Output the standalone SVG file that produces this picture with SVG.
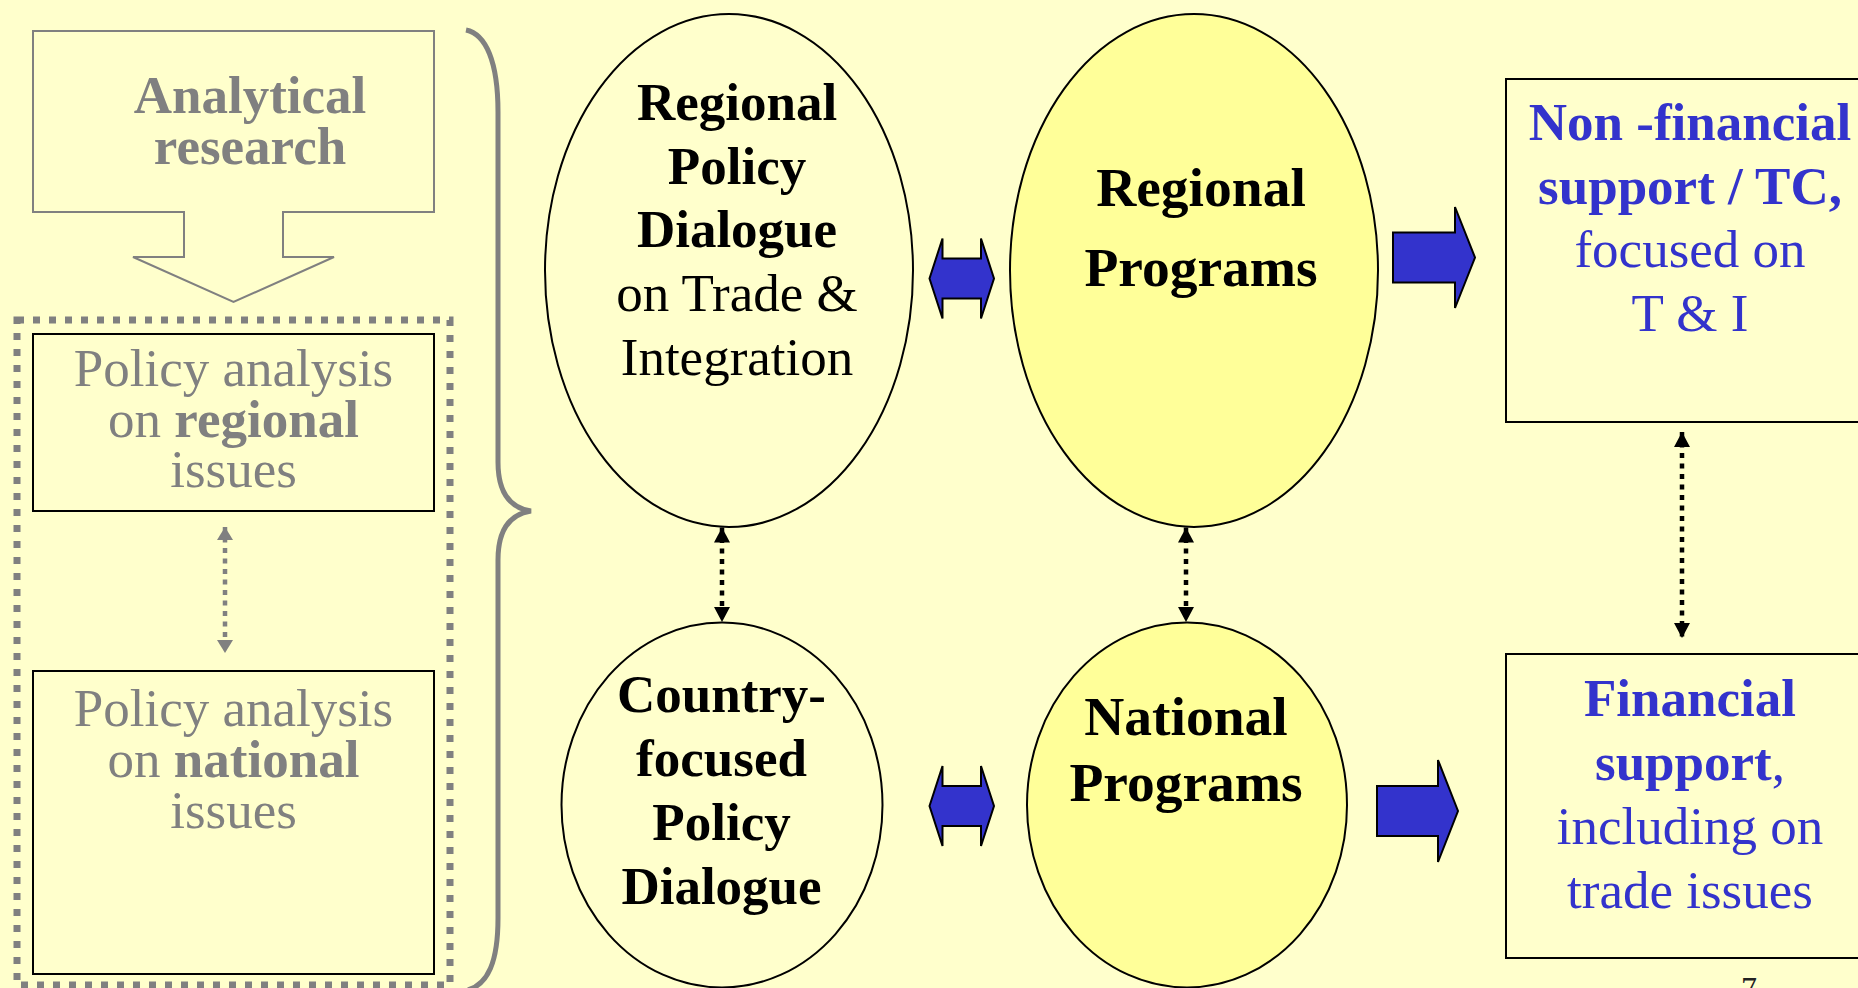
<svg xmlns="http://www.w3.org/2000/svg" width="1858" height="988" viewBox="0 0 1858 988">
<style>
.t{font-family:"Liberation Serif","Times New Roman",serif;text-anchor:middle;font-size:53px}
.p{font-size:55.5px}
.b{font-weight:bold}
.gray{fill:#808080}
.blue{fill:#3333CC}
.blk{fill:#000}
.box{fill:none;stroke:#000;stroke-width:2}
.ell{stroke:#000;stroke-width:2}
.barrow{fill:#3333CC;stroke:#000;stroke-width:2;stroke-linejoin:miter}
.dotk{stroke:#000;stroke-width:4.5;stroke-dasharray:5 5.5;fill:none}
.dotg{stroke:#808080;stroke-width:4.5;stroke-dasharray:5 5.5;fill:none}
</style>
<defs>
<marker id="ak" markerUnits="userSpaceOnUse" markerWidth="16" markerHeight="16" refX="15" refY="8" orient="auto-start-reverse" viewBox="0 0 16 16">
<path d="M0,0 L15,8 L0,16 Z" fill="#000"/>
</marker>
<marker id="ag" markerUnits="userSpaceOnUse" markerWidth="14" markerHeight="16" refX="13" refY="8" orient="auto-start-reverse" viewBox="0 0 14 16">
<path d="M0,0 L13,8 L0,16 Z" fill="#808080"/>
</marker>
</defs>
<rect x="0" y="0" width="1858" height="988" fill="#FFFFCC"/>

<g id="analytical-research">
<path d="M33 31 H434 V212 H283 V257 H334 L233.5 302 L133 257 H184 V212 H33 Z" fill="none" stroke="#808080" stroke-width="2"/>
<text class="t b gray" x="250" y="113">Analytical</text>
<text class="t b gray" x="250" y="164">research</text>
</g>

<g id="policy-analysis-group">
<rect x="17" y="320" width="433" height="665" fill="none" stroke="#808080" stroke-width="7" stroke-dasharray="7 9"/>
</g>

<g id="policy-regional">
<rect class="box" x="33" y="334" width="401" height="177"/>
<text class="t gray" x="233.5" y="386">Policy analysis</text>
<text class="t gray" x="233.5" y="437">on <tspan class="b">regional</tspan></text>
<text class="t gray" x="233.5" y="487">issues</text>
</g>

<g id="policy-national">
<rect class="box" x="33" y="671" width="401" height="303"/>
<text class="t gray" x="233.5" y="726">Policy analysis</text>
<text class="t gray" x="233.5" y="777">on <tspan class="b">national</tspan></text>
<text class="t gray" x="233.5" y="828">issues</text>
</g>

<g id="brace">
<path d="M466 30 C486 34 498 62 498 112 L498 462 C498 494 511 508 531 511 C511 514 498 528 498 560 L498 918 C498 962 488 984 468 990" fill="none" stroke="#808080" stroke-width="5"/>
</g>

<g id="regional-policy-dialogue">
<ellipse class="ell" cx="729" cy="270.5" rx="184" ry="256.5" fill="#FFFFCC"/>
<text class="t b blk" x="737" y="119.5">Regional</text>
<text class="t b blk" x="737" y="183.5">Policy</text>
<text class="t b blk" x="737" y="247">Dialogue</text>
<text class="t blk" x="737" y="311">on Trade &amp;</text>
<text class="t blk" x="737" y="375">Integration</text>
</g>

<g id="regional-programs">
<ellipse class="ell" cx="1194" cy="270.5" rx="184" ry="256.5" fill="#FFFF99"/>
<text class="t p b blk" x="1201" y="206">Regional</text>
<text class="t p b blk" x="1201" y="286">Programs</text>
</g>

<g id="country-policy-dialogue">
<ellipse class="ell" cx="722" cy="805" rx="160.5" ry="182.5" fill="#FFFFCC"/>
<text class="t b blk" x="721.5" y="712">Country-</text>
<text class="t b blk" x="721.5" y="776">focused</text>
<text class="t b blk" x="721.5" y="840">Policy</text>
<text class="t b blk" x="721.5" y="904">Dialogue</text>
</g>

<g id="national-programs">
<ellipse class="ell" cx="1187" cy="805" rx="160" ry="182.5" fill="#FFFF99"/>
<text class="t p b blk" x="1186" y="735">National</text>
<text class="t p b blk" x="1186" y="801">Programs</text>
</g>

<g id="non-financial-support">
<rect class="box" x="1506" y="79" width="420" height="343"/>
<text class="t b blue" x="1690" y="139.5">Non -financial</text>
<text class="t b blue" x="1690" y="204">support / TC,</text>
<text class="t blue" x="1690" y="267">focused on</text>
<text class="t blue" x="1690" y="331">T &amp; I</text>
</g>

<g id="financial-support">
<rect class="box" x="1506" y="654" width="420" height="304"/>
<text class="t b blue" x="1690" y="716">Financial</text>
<text class="t blue" x="1690" y="780"><tspan class="b">support</tspan>,</text>
<text class="t blue" x="1690" y="844">including on</text>
<text class="t blue" x="1690" y="908">trade issues</text>
</g>

<g id="page-number">
<text x="1749" y="999" font-family="'Liberation Serif','Times New Roman',serif" font-size="32" fill="#222" text-anchor="middle">7</text>
</g>

<g id="connectors">
<polygon class="barrow" points="929.5,278.5 942.5,238.5 942.5,258.5 981,258.5 981,238.5 994,278.5 981,318.5 981,298.5 942.5,298.5 942.5,318.5"/>
<polygon class="barrow" points="929.5,806 942.5,766 942.5,786 981,786 981,766 994,806 981,846 981,826 942.5,826 942.5,846"/>
<polygon class="barrow" points="1393,232.5 1455,232.5 1455,207 1475,257.5 1455,308 1455,282.5 1393,282.5"/>
<polygon class="barrow" points="1377,786 1438,786 1438,760 1458,811 1438,862 1438,836 1377,836"/>
<line class="dotk" x1="722" y1="527.5" x2="722" y2="622" marker-start="url(#ak)" marker-end="url(#ak)"/>
<line class="dotk" x1="1186" y1="527.5" x2="1186" y2="622" marker-start="url(#ak)" marker-end="url(#ak)"/>
<line class="dotk" x1="1682" y1="432" x2="1682" y2="638" marker-start="url(#ak)" marker-end="url(#ak)"/>
<line class="dotg" x1="225" y1="527" x2="225" y2="653" marker-start="url(#ag)" marker-end="url(#ag)"/>
</g>
</svg>
